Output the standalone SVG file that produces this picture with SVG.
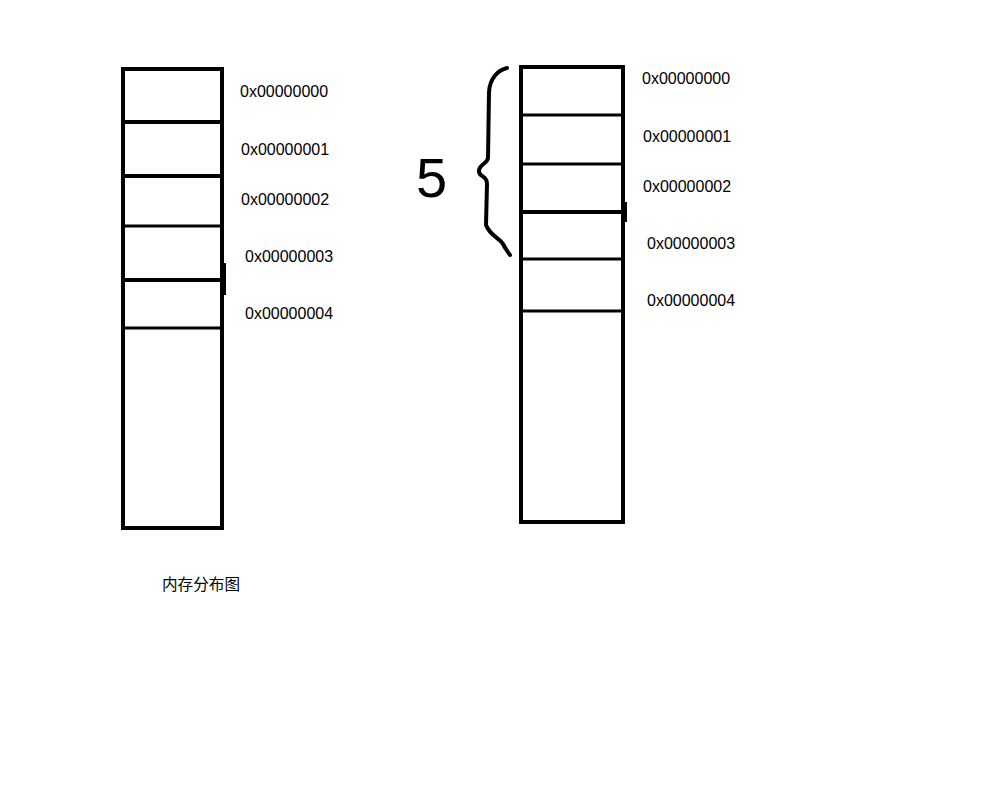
<svg xmlns="http://www.w3.org/2000/svg" width="1000" height="800" viewBox="0 0 1000 800">
<style>
.box{fill:none;stroke:#000;stroke-width:4}
.ln{stroke:#000;stroke-width:4}
.thin{stroke:#000;stroke-width:3}
.lbl{font-family:"Liberation Sans",Arial,sans-serif;font-size:16px;fill:#000}
.cn{font-family:"Liberation Sans","Noto Sans CJK SC",sans-serif;font-size:15.6px;fill:#000}
</style>
<rect width="1000" height="800" fill="#fff"/>
<g id="left-column">
<rect class="box" x="123" y="69" width="99" height="459"/>
<line class="ln" x1="123" y1="122" x2="222" y2="122"/>
<line class="ln" x1="123" y1="176" x2="222" y2="176"/>
<line class="thin" x1="123" y1="226" x2="222" y2="226"/>
<line class="ln" x1="123" y1="280" x2="222" y2="280"/>
<line class="thin" x1="123" y1="328" x2="222" y2="328"/>
<line x1="224" y1="263" x2="224" y2="295" stroke="#000" stroke-width="4"/>
</g>
<g id="left-labels">
<text class="lbl" x="240" y="97">0x00000000</text>
<text class="lbl" x="241" y="155">0x00000001</text>
<text class="lbl" x="241" y="205">0x00000002</text>
<text class="lbl" x="245" y="262">0x00000003</text>
<text class="lbl" x="245" y="319">0x00000004</text>
</g>
<g id="caption">
<text class="cn" x="162" y="590">内存分布图</text>
</g>
<g id="right-column">
<rect class="box" x="521" y="67" width="102" height="455"/>
<line class="thin" x1="521" y1="115" x2="623" y2="115"/>
<line class="thin" x1="521" y1="164" x2="623" y2="164"/>
<line class="ln" x1="521" y1="212" x2="623" y2="212"/>
<line class="thin" x1="521" y1="259" x2="623" y2="259"/>
<line class="thin" x1="521" y1="311" x2="623" y2="311"/>
<line x1="626" y1="202" x2="626" y2="222" stroke="#000" stroke-width="2"/>
</g>
<g id="right-labels">
<text class="lbl" x="642" y="84">0x00000000</text>
<text class="lbl" x="643" y="142">0x00000001</text>
<text class="lbl" x="643" y="192">0x00000002</text>
<text class="lbl" x="647" y="249">0x00000003</text>
<text class="lbl" x="647" y="306">0x00000004</text>
</g>
<g id="brace">
<path d="M507,68 C498,70 490,78 489,92 L488,158 C487,164 480,164 479,170 C478,178 487,174 487,184 L486,225 C490,236 500,238 503,244 C506,250 508,252 510,255" fill="none" stroke="#000" stroke-width="4" stroke-linecap="round" stroke-linejoin="round"/>
<text x="416" y="197" font-family="'Liberation Sans',Arial,sans-serif" font-size="56" fill="#000">5</text>
</g>
</svg>
